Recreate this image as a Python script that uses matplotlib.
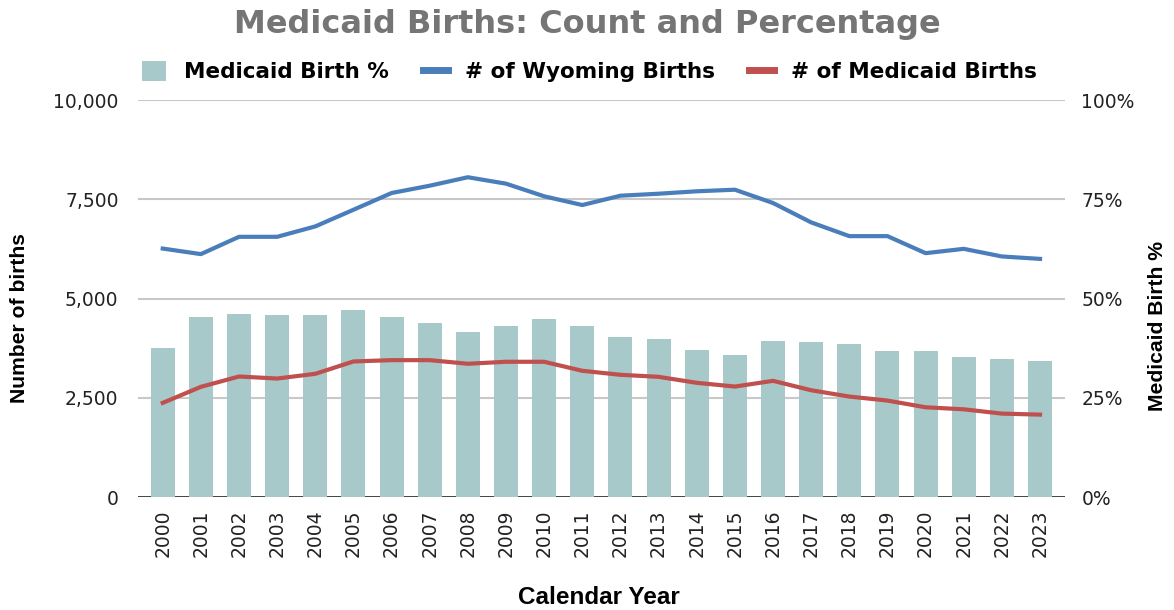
import matplotlib
matplotlib.use("Agg")
import matplotlib.pyplot as plt
from matplotlib.lines import Line2D
from matplotlib.patches import Patch
from matplotlib.ticker import FuncFormatter

years = list(range(2000, 2024))
medicaid_pct = [37.6, 45.3, 46.2, 45.8, 45.8, 47.1, 45.3, 43.9, 41.7, 43.0,
                44.9, 43.0, 40.3, 39.9, 37.1, 35.9, 39.4, 39.0, 38.5, 36.7,
                36.7, 35.4, 34.9, 34.4]
wyoming_births = [6260, 6120, 6556, 6556, 6818, 7237, 7659, 7843, 8056, 7894,
                  7576, 7356, 7591, 7641, 7702, 7742, 7407, 6919, 6573, 6573,
                  6144, 6253, 6061, 6000]
medicaid_births = [2374, 2778, 3038, 2987, 3106, 3417, 3450, 3450, 3359, 3409,
                   3409, 3182, 3081, 3030, 2879, 2785, 2929, 2692, 2533, 2432,
                   2263, 2212, 2104, 2078]

bar_color = "#A7C9C9"
blue = "#4A7EBB"
red = "#C0504D"

fig = plt.figure(figsize=(11.74, 6.10), dpi=100)
ax = fig.add_axes([0.1175, 0.185, 0.7895, 0.651])
ax2 = ax.twinx()
ax.set_zorder(ax2.get_zorder() + 1)
ax.patch.set_visible(False)

x = list(range(len(years)))

# bars on the percentage axis
ax2.bar(x, medicaid_pct, width=0.63, color=bar_color, zorder=2)
ax2.set_ylim(0, 100)
ax2.set_yticks([0, 25, 50, 75, 100])
ax2.yaxis.set_major_formatter(FuncFormatter(lambda v, p: f"{int(v)}%"))
for v in [25, 50, 75, 100]:
    ax2.axhline(v, color="#C8C8C8", lw=1.5, zorder=0)
ax2.axhline(0, color="#333333", lw=2, zorder=1)

# lines on the count axis
ax.plot(x, wyoming_births, color=blue, lw=3)
ax.plot(x, medicaid_births, color=red, lw=3)
ax.set_ylim(0, 10000)
ax.set_yticks([0, 2500, 5000, 7500, 10000])
ax.yaxis.set_major_formatter(FuncFormatter(lambda v, p: f"{int(v):,}"))
ax.set_xlim(-0.65, len(years) - 0.35)
ax.set_xticks(x)
ax.set_xticklabels([str(y) for y in years], rotation=90, fontsize=13.5, color="#222222")

for a in (ax, ax2):
    for s in a.spines.values():
        s.set_visible(False)
    a.tick_params(length=0)
ax.tick_params(axis="y", labelsize=13.5, labelcolor="#222222", pad=14)
ax2.tick_params(axis="y", labelsize=13.5, labelcolor="#222222", pad=12)
ax.tick_params(axis="x", pad=9)

lab_font = {"family": "Liberation Sans", "weight": "bold", "size": 15.2}
ax.set_ylabel("Number of births", fontdict=lab_font)
ax.yaxis.set_label_coords(-0.118, 0.45)
ax2.set_ylabel("Medicaid Birth %", fontdict=lab_font)
ax2.yaxis.set_label_coords(1.09, 0.43)
ax.set_xlabel("Calendar Year", fontdict={"family": "Liberation Sans", "weight": "bold", "size": 17.5})
ax.xaxis.set_label_coords(0.497, -0.225)

fig.suptitle("Medicaid Births: Count and Percentage", y=0.985, fontsize=23,
             fontweight="bold", color="#757575")

handles = [
    Patch(facecolor=bar_color, edgecolor="none"),
    Line2D([0], [0], color=blue, lw=5),
    Line2D([0], [0], color=red, lw=5),
]
labels = ["Medicaid Birth %", "# of Wyoming Births", "# of Medicaid Births"]
fig.legend(handles, labels, loc="center", bbox_to_anchor=(0.502, 0.882), ncol=3,
           frameon=False, prop={"weight": "bold", "size": 15.5},
           handlelength=1.15, handleheight=1.0, columnspacing=1.6, handletextpad=0.8)

fig.savefig("out.png", dpi=100)
